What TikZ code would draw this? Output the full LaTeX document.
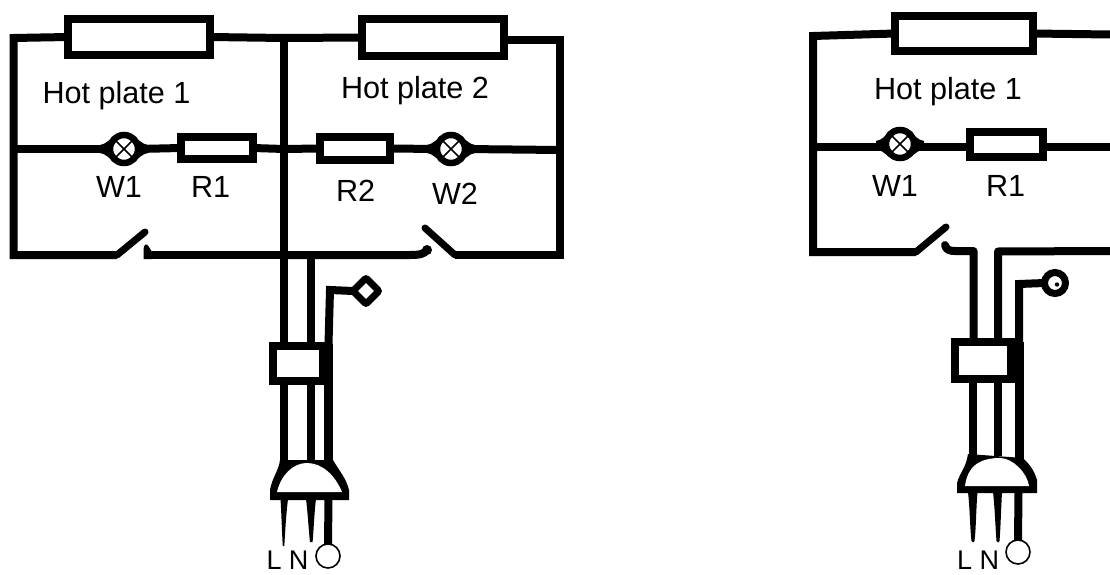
\documentclass[tikz,border=0pt]{standalone}
\usepackage{fontspec}
\setmainfont{Liberation Sans}
\usetikzlibrary{shapes.geometric}
\tikzset{
  wire/.style={draw=black,line width=8pt,line join=round},
  thinwire/.style={draw=black,line width=7pt,line cap=round},
  box/.style={draw=black,rectangle,line width=8pt,inner sep=0pt,outer sep=0pt,fill=white},
  lamp/.style={draw=black,circle,line width=6.5pt,minimum size=28pt,inner sep=0pt,outer sep=0pt,fill=white},
  cross/.style={draw=black,line width=1.5pt},
  label/.style={anchor=base west,inner sep=0pt,outer sep=0pt,font=\fontsize{30.6}{36}\selectfont,text=black},
  small label/.style={anchor=base west,inner sep=0pt,outer sep=0pt,font=\fontsize{27}{31}\selectfont,text=black},
  ring/.style={draw=black,circle,line width=1.6pt,minimum size=24pt,inner sep=0pt,outer sep=0pt,fill=white}
}
\newcommand{\lens}[2]{%
  \fill[black] (#1-24,#2-4) .. controls (#1-18,#2-4) and (#1-15,#2-12) .. (#1,#2-15)
    .. controls (#1+15,#2-12) and (#1+18,#2-4) .. (#1+24,#2-4) -- (#1+24,#2+4)
    .. controls (#1+18,#2+4) and (#1+15,#2+12) .. (#1,#2+15)
    .. controls (#1-15,#2+12) and (#1-18,#2+4) .. (#1-24,#2+4) -- cycle;}
\begin{document}
\begin{tikzpicture}[x=1pt,y=-1pt]
\useasboundingbox (0,0) rectangle (1110,575);
\fill[white] (0,0) rectangle (1110,575);

% ============ LEFT DIAGRAM ============
\coordinate (atl) at (13.5,38);
\coordinate (abl) at (13.5,255);
\coordinate (aml) at (13.5,149);
\coordinate (atm) at (284,38);
\coordinate (amm) at (284,149);
\coordinate (abm) at (284,255);
\coordinate (atr) at (559.5,40);
\coordinate (amr) at (559.5,150);
\coordinate (abr) at (559.5,255);
\coordinate (asa) at (117,255);
\coordinate (asb) at (145,232);
\coordinate (asc) at (455,255);
\coordinate (asd) at (425,228);
\coordinate (ase) at (427,250);

\lens{124}{149}
\lens{451}{149}
\node[box,minimum width=142pt,minimum height=36pt] (ah1) at (139,37) {};
\node[box,minimum width=142pt,minimum height=37pt] (ah2) at (433,37.5) {};
\node[box,minimum width=72pt,minimum height=22pt] (ar1) at (217,148) {};
\node[box,minimum width=70pt,minimum height=23pt] (ar2) at (355,148.5) {};
\node[lamp] (aw1) at (124,149) {};
\node[lamp] (aw2) at (451,149) {};
\draw[cross] (aw1.45) -- (aw1.225) (aw1.135) -- (aw1.315);
\draw[cross] (aw2.45) -- (aw2.225) (aw2.135) -- (aw2.315);

\draw[wire,line join=miter] (ah1.west) -- (atl) -- (abl) -- (asa);
\draw[wire] (ah1.east) -- (atm) -- (ah2.west);
\draw[wire,line join=miter] (ah2.east |- atr) -- (atr) -- (abr) -- (asc);
\draw[wire] (aml) -- (aw1.west);
\draw[wire] (aw1.east) -- (ar1.west);
\draw[wire] (ar1.east) -- (amm) -- (ar2.west);
\draw[wire] (ar2.east) -- (aw2.west);
\draw[wire] (aw2.east) -- (amr);
\draw[thinwire] (asa) -- (asb);
\draw[thinwire] (asc) -- (asd);
\draw[wire] (abm) -- (150,255);
\fill[black] (143.5,259) -- (143.5,250) .. controls (144,243) and (147,243) .. (149,247) -- (152,252) -- (152,259) -- cycle;
\draw[wire] (abm) -- (410,255) .. controls (420,255) and (424,254) .. (ase);
\fill[black] (ase) circle (5pt);

% left cord
\node[box,minimum width=50pt,minimum height=35pt] (acl) at (298,363.5) {};
\node[draw=black,diamond,line width=7pt,minimum width=26pt,minimum height=26pt,inner sep=0pt,outer sep=0pt,rounded corners=2pt,fill=white] (alp) at (366,291) {};
\coordinate (ae1) at (330,290);
\coordinate (ae2) at (328.5,344);
\coordinate (aw3) at (311,255);
\coordinate (ap1) at (284,462);
\coordinate (ap2) at (311,462);
\coordinate (ap3) at (328.5,462);
\coordinate (ac1) at (284,346);
\coordinate (ac2) at (311,346);
\coordinate (ad1) at (284,381);
\coordinate (ad2) at (311,381);
\draw[wire] (atm) -- (ac1);
\draw[wire] (aw3) -- (ac2);
\draw[wire,line join=miter] (alp.west) -- (ae1) -- (ae2);
\draw[wire] (ad1) -- (ap1);
\draw[wire] (ad2) -- (ap2);
\draw[wire,line width=9pt] (ae2) -- (ap3);
\fill[black] (270,500) -- (349,500) -- (349,490) .. controls (346,478) and (340,472) .. (333,460) -- (280,460)
  .. controls (279,470) and (272,478) .. (270,490) -- cycle;
\fill[white] (277,492) -- (342,492) .. controls (335,475) and (322,463) .. (307,463) .. controls (293,463) and (281,475) .. (277,492) -- cycle;
\fill[black] (280.5,499) -- (288,499) .. controls (286,515) and (285,535) .. (284.3,546) -- (282.8,546) .. controls (282,535) and (281.5,515) .. (280.5,499) -- cycle;
\fill[black] (306,499) -- (316,499) .. controls (314,515) and (313.5,535) .. (312.5,542) -- (310,542) .. controls (309,535) and (308,515) .. (306,499) -- cycle;
\node[ring] (agn) at (328,556) {};
\draw[wire] (328.5,499) -- (agn.north);

% ============ RIGHT DIAGRAM ============
\coordinate (btl) at (813,36);
\coordinate (bbl) at (813,252);
\coordinate (bml) at (813,146.5);
\coordinate (btr) at (1110,34.5);
\coordinate (bmr) at (1110,146.5);
\coordinate (bbr) at (1110,251);
\coordinate (bsa) at (916,252);
\coordinate (bsb) at (946,227);

\lens{900}{145}
\node[box,minimum width=138pt,minimum height=35pt] (bh1) at (964,33.5) {};
\node[box,minimum width=73pt,minimum height=25pt] (br1) at (1006.5,144.5) {};
\node[lamp] (bw1) at (900,144) {};
\draw[cross] (bw1.45) -- (bw1.225) (bw1.135) -- (bw1.315);

\draw[wire,line join=miter] (bh1.west) -- (btl) -- (bbl) -- (bsa);
\draw[wire] (bh1.east) -- (btr);
\draw[wire] (bml) -- (bw1.west |- bml);
\draw[wire] (bw1.east |- bml) -- (br1.west |- bml);
\draw[wire] (br1.east |- bmr) -- (bmr);
\draw[thinwire] (bsa) -- (bsb);

\node[box,minimum width=56pt,minimum height=37pt] (bcl) at (983,360) {};
\node[draw=black,circle,line width=7pt,minimum size=21pt,inner sep=0pt,outer sep=0pt,fill=white] (blp) at (1055,283) {};
\fill[black] (1057,284.5) circle (2.2pt);
\coordinate (bwa) at (973.5,342);
\coordinate (bwb) at (973.5,251);
\coordinate (bwc) at (998,342);
\coordinate (bwd) at (998,251.5);
\coordinate (be1) at (1019,284);
\coordinate (be2) at (1019,342);
\coordinate (bd1) at (973,378);
\coordinate (bd2) at (998,378);
\coordinate (bp1) at (973,456);
\coordinate (bp2) at (998,456);
\coordinate (bp3) at (1019,460);
\draw[wire,line cap=round] (945,245) .. controls (946,250) and (950,251) .. (955,251) -- (bwb) -- (bwa);
\draw[wire] (bwc) -- (bwd) -- (bbr);
\draw[wire,line join=miter] (blp.west) -- (be1) -- (be2);
\draw[wire] (bd1) -- (bp1);
\draw[wire] (bd2) -- (bp2);
\draw[wire,line width=9pt] (be2) -- (bp3);
\fill[black] (957,493) -- (1037,493) -- (1037,480) .. controls (1034,470) and (1030,465) .. (1023,458) -- (968,454)
  .. controls (966,468) and (960,472) .. (957,483) -- cycle;
\fill[white] (965,486) -- (1029,486) .. controls (1027,472) and (1012,458) .. (1000,458) .. controls (985,458) and (968,462) .. (965,486) -- cycle;
\fill[black] (968,492) -- (977.5,492) .. controls (976,510) and (976,530) .. (974.5,541) .. controls (974,543) and (972,543) .. (971.5,541) .. controls (970,530) and (970,510) .. (968,492) -- cycle;
\fill[black] (993,492) -- (1002,492) .. controls (1001,510) and (1000.5,530) .. (999.5,541) .. controls (999,543) and (997,543) .. (996.5,541) .. controls (995.5,530) and (995,510) .. (993,492) -- cycle;
\node[ring] (bgn) at (1018,552) {};
\draw[wire] (1018.5,492) -- (bgn.north);

% ============ LABELS ============
\node[label] (t1) at (42.5,103) {Hot plate 1};
\node[label] (t2) at (96,197) {W1};
\node[label] (t3) at (191,197) {R1};
\node[label] (t4) at (341,99) {Hot plate 2};
\node[label] (t5) at (336,201) {R2};
\node[label] (t6) at (432,204) {W2};
\node[small label] (t7) at (266.5,569) {L N};
\node[label] (t8) at (874,100) {Hot plate 1};
\node[label] (t9) at (872,196) {W1};
\node[label] (t10) at (986,196) {R1};
\node[small label] (t11) at (957,569) {L N};
\end{tikzpicture}
\end{document}
